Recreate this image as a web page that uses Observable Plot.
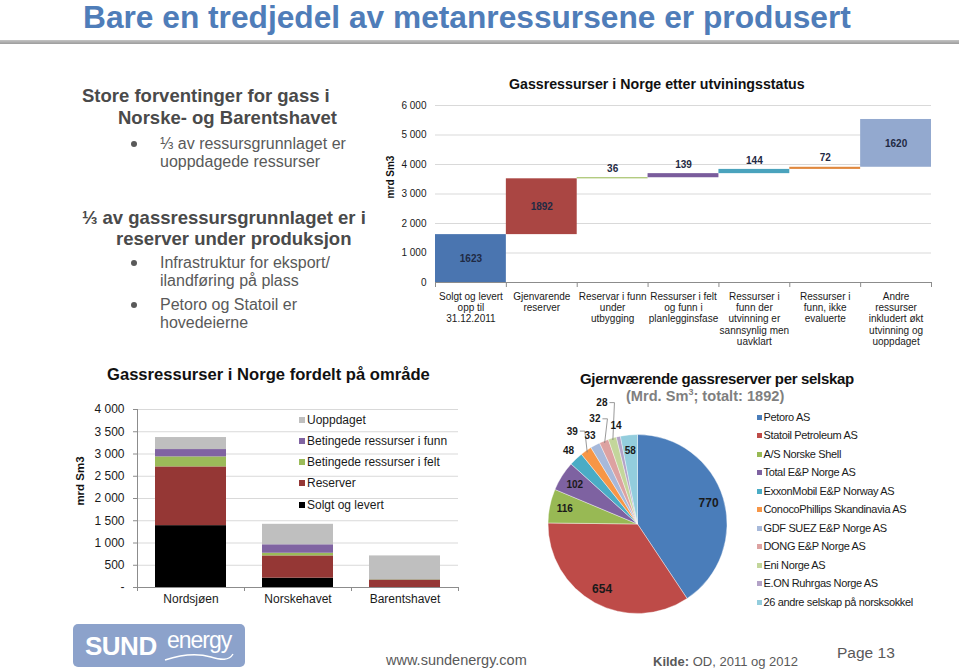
<!DOCTYPE html>
<html lang="no"><head><meta charset="utf-8"><title>Gassressurser</title>
<script src="https://cdn.jsdelivr.net/npm/d3@7"></script>
<script src="https://cdn.jsdelivr.net/npm/@observablehq/plot@0.6"></script>
<style>
html,body{margin:0;padding:0;background:#fff;}
#page{position:relative;width:959px;height:671px;overflow:hidden;font-family:"Liberation Sans",Arial,Helvetica,sans-serif;color:#595959;}
.t{position:absolute;white-space:nowrap;line-height:1;}
.chart{position:absolute;}
.chart svg{overflow:visible;max-width:none;}
.dot{position:absolute;width:6px;height:6px;border-radius:50%;background:#595959;}
.sw{position:absolute;}
</style></head><body><div id="page"></div><script>
// ---------- DATA ----------
// Waterfall: Gassressurser i Norge etter utviningsstatus (mrd Sm3)
const wfCategories = [
  "Solgt og levert\nopp til\n31.12.2011",
  "Gjenvarende\nreserver",
  "Reservar i funn\nunder\nutbygging",
  "Ressurser i felt\nog funn i\nplanlegginsfase",
  "Ressurser i\nfunn der\nutvinning er\nsannsynlig men\nuavklart",
  "Ressurser i\nfunn, ikke\nevaluerte",
  "Andre\nressurser\ninkludert økt\nutvinning og\nuoppdaget"
];
const wfValues = [1623, 1892, 36, 139, 144, 72, 1620];
const wfColors = ["#4a75b0", "#aa4643", "#9bbb59", "#7a5c9c", "#4aa3bd", "#e0883e", "#93a9cf"];
const wfTicks = [0, 1000, 2000, 3000, 4000, 5000, 6000];

// Stacked: Gassressurser i Norge fordelt på område (mrd Sm3)
const areas = ["Nordsjøen", "Norskehavet", "Barentshavet"];
const areaSeries = ["Solgt og levert", "Reserver", "Betingede ressurser i felt", "Betingede ressurser i funn", "Uoppdaget"];
const solgtOgLevert = [1390, 210, 0];
const reserver = [1320, 500, 165];
const betingedeFelt = [225, 60, 10];
const betingedeFunn = [165, 190, 5];
const uoppdaget = [270, 460, 530];
const areaColors = ["#000000", "#953735", "#9bbb59", "#8064a2", "#bfbfbf"];
const areaTicks = [0, 500, 1000, 1500, 2000, 2500, 3000, 3500, 4000];

// Pie: Gjernværende gassreserver per selskap (Mrd. Sm3; totalt 1892)
const companies = ["Petoro AS", "Statoil Petroleum AS", "A/S Norske Shell", "Total E&P Norge AS",
  "ExxonMobil E&P Norway AS", "ConocoPhillips Skandinavia AS", "GDF SUEZ E&P Norge AS",
  "DONG E&P Norge AS", "Eni Norge AS", "E.ON Ruhrgas Norge AS", "26 andre selskap på norsksokkel"];
const companyReserves = [770, 654, 116, 102, 48, 39, 33, 32, 28, 14, 58];
const companyColors = ["#4a7dba", "#be4b48", "#98b954", "#7e62a1", "#4aacc5", "#f79646",
  "#a7b9da", "#dda2a1", "#c3d69b", "#b3a2c7", "#93cddd"];

// ---------- HELPERS ----------
const FONT = "Liberation Sans, Arial, Helvetica, sans-serif";
const page = document.getElementById("page");
function addText(html, x, top, css) {
  const d = document.createElement("div");
  d.className = "t";
  d.innerHTML = html;
  d.style.left = x + "px";
  d.style.top = top + "px";
  Object.assign(d.style, css || {});
  page.appendChild(d);
  return d;
}
function addChart(node, x, y) {
  const d = document.createElement("div");
  d.className = "chart";
  d.style.left = x + "px";
  d.style.top = y + "px";
  d.appendChild(node);
  page.appendChild(d);
}
const fmtK = v => d3.format(",")(v).replace(/,/g, "\u00a0");

// ---------- SLIDE HEADER ----------
addText("Bare en tredjedel av metanressursene er produsert", 83, 2,
  {fontSize: "31.7px", fontWeight: "bold", color: "#4f7db9"});
const rule = document.createElement("div");
Object.assign(rule.style, {position: "absolute", left: "0px", top: "40px", width: "959px", height: "4px",
  background: "linear-gradient(#c4c4c4,#9c9c9c)"});
page.appendChild(rule);

// ---------- LEFT TEXT ----------
const H = {fontSize: "18.5px", fontWeight: "bold", color: "#4a4a4a"};
const B = {fontSize: "16px", color: "#595959"};
addText("Store forventinger for gass i", 82, 103 - 15.7, H);
addText("Norske- og Barentshavet", 118, 125 - 15.7, H);
addText("⅓ av ressursgrunnlaget er", 160, 149 - 13.5, B);
addText("uoppdagede ressurser", 160, 167.5 - 13.5, B);
addText("⅓ av gassressursgrunnlaget er i", 82, 225 - 15.7, H);
addText("reserver under produksjon", 116, 246 - 15.7, H);
addText("Infrastruktur for eksport/", 160, 268 - 13.5, B);
addText("ilandføring på plass", 160, 286.5 - 13.5, B);
addText("Petoro og Statoil er", 160, 310 - 13.5, B);
addText("hovedeierne", 160, 328.5 - 13.5, B);
[149, 268, 310].forEach(b => {
  const d = document.createElement("div");
  d.className = "dot";
  d.style.left = "131px";
  d.style.top = (b - 8) + "px";
  page.appendChild(d);
});

// ---------- WATERFALL ----------
addText("Gassressurser i Norge etter utviningsstatus", 509, 77,
  {fontSize: "14.2px", fontWeight: "bold", color: "#111"});
addText("mrd Sm3", 391, 177, {fontSize: "10px", fontWeight: "bold", color: "#111",
  transform: "translate(-50%,-50%) rotate(-90deg)"});

let run = 0;
const wfRows = wfValues.map((v, i) => {
  const r = {i, cat: wfCategories[i], v, y1: run, y2: run + v};
  run += v;
  return r;
});
const wf = Plot.plot({
  width: 579, height: 262, marginLeft: 55, marginRight: 28, marginTop: 10, marginBottom: 75,
  style: {fontFamily: FONT, fontSize: "10px", color: "#1a1a1a", background: "transparent"},
  x: {type: "linear", domain: [0, wfCategories.length]},
  y: {domain: [0, 6000]},
  color: {type: "ordinal", domain: wfCategories, range: wfColors},
  marks: [
    Plot.ruleY(wfTicks.filter(t => t > 0), {stroke: "#d9d9d9", strokeWidth: 1}),
    Plot.axisY({ticks: wfTicks, tickSize: 0, tickPadding: 9, tickFormat: fmtK, label: null}),
    Plot.rect(wfRows, {x1: "i", x2: d => d.i + 1, y1: "y1", y2: "y2", fill: "cat"}),
    Plot.ruleY([0], {stroke: "#8c8c8c"}),
    Plot.axisX({ticks: d3.range(0, wfCategories.length + 1), tickSize: 5, stroke: "#8c8c8c",
      tickFormat: () => "", label: null}),
    Plot.axisX({ticks: d3.range(wfCategories.length).map(i => i + 0.5), tickSize: 0, tickPadding: 9,
      tickFormat: t => wfCategories[Math.floor(t)], lineHeight: 1.14, label: null, fill: "#1a1a1a"}),
    Plot.text(wfRows.filter(d => d.v >= 1000), {x: d => d.i + 0.5, y: d => (d.y1 + d.y2) / 2,
      text: d => String(d.v), fontWeight: "bold", fill: "#1f2a44"}),
    Plot.text(wfRows.filter(d => d.v < 1000), {x: d => d.i + 0.5, y: "y2", dy: -9,
      text: d => String(d.v), fontWeight: "bold", fill: "#1f2a44"})
  ]
});
addChart(wf, 380, 95);

// ---------- STACKED BARS ----------
addText("Gassressurser i Norge fordelt på område", 107, 367,
  {fontSize: "16.6px", fontWeight: "bold", color: "#111"});
addText("mrd Sm3", 81, 481, {fontSize: "11.5px", fontWeight: "bold", color: "#111",
  transform: "translate(-50%,-50%) rotate(-90deg)"});

const areaValues = [solgtOgLevert, reserver, betingedeFelt, betingedeFunn, uoppdaget];
const stackRows = areas.flatMap((a, i) => {
  let c = 0;
  return areaSeries.map((s, k) => {
    const v = areaValues[k][i];
    const r = {i, area: a, series: s, v, y1: c, y2: c + v};
    c += v;
    return r;
  });
});
const sb = Plot.plot({
  width: 402, height: 220, marginLeft: 77, marginRight: 4, marginTop: 14, marginBottom: 28,
  style: {fontFamily: FONT, fontSize: "12px", color: "#1a1a1a", background: "transparent"},
  x: {type: "linear", domain: [0, areas.length]},
  y: {domain: [0, 4000]},
  color: {type: "ordinal", domain: areaSeries, range: areaColors},
  marks: [
    Plot.ruleY(areaTicks.filter(t => t > 0), {stroke: "#d9d9d9"}),
    Plot.axisY({ticks: areaTicks, tickSize: 4, tickPadding: 9, stroke: "#8c8c8c",
      tickFormat: v => v === 0 ? "-" : fmtK(v), label: null, fill: "#1a1a1a"}),
    Plot.rect(stackRows.filter(d => d.v > 0), {x1: "i", x2: d => d.i + 1, y1: "y1", y2: "y2",
      fill: "series", insetLeft: 18, insetRight: 18}),
    Plot.ruleX([0], {stroke: "#8c8c8c"}),
    Plot.ruleY([0], {stroke: "#8c8c8c"}),
    Plot.axisX({ticks: d3.range(0, areas.length + 1), tickSize: 4, stroke: "#8c8c8c",
      tickFormat: () => "", label: null}),
    Plot.axisX({ticks: areas.map((_, i) => i + 0.5), tickSize: 0, tickPadding: 7,
      tickFormat: t => areas[Math.floor(t)], label: null, fill: "#1a1a1a"})
  ]
});
addChart(sb, 60, 395);

// stacked legend (reverse order)
const sbLegendY = [420, 441, 462, 483.3, 505];
areaSeries.slice().reverse().forEach((s, k) => {
  const col = areaColors[areaSeries.indexOf(s)];
  const sw = document.createElement("div");
  sw.className = "sw";
  Object.assign(sw.style, {left: "299px", top: (sbLegendY[k] - 3) + "px", width: "6px", height: "6px", background: col});
  page.appendChild(sw);
  addText(s, 307, sbLegendY[k] - 6, {fontSize: "12px", color: "#1a1a1a"});
});

// ---------- PIE ----------
addText("Gjernværende gassreserver per selskap", 580, 370.6,
  {fontSize: "15px", fontWeight: "bold", color: "#111", letterSpacing: "-0.33px"});
addText("(Mrd. Sm<sup style='font-size:9px;vertical-align:6px;line-height:0'>3</sup>; totalt: 1892)", 626, 389,
  {fontSize: "14.6px", fontWeight: "bold", color: "#7f7f7f"});

const pieColor = Plot.scale({color: {type: "ordinal", domain: companies, range: companyColors}});
const pieRows = companies.map((c, i) => ({company: c, value: companyReserves[i]}));
const PCX = 117.5, PCY = 144, PR = 89.5;
function pieMark() {
  const g = d3.create("svg:g").attr("transform", `translate(${PCX},${PCY})`);
  const arcs = d3.pie().sort(null).value(d => d.value)(pieRows);
  const arc = d3.arc().innerRadius(0).outerRadius(PR);
  g.selectAll("path.slice").data(arcs).join("path")
    .attr("d", arc)
    .attr("fill", d => pieColor.apply(d.data.company))
    .attr("stroke", "#ffffff").attr("stroke-width", 0.4);
  const placed = [];
  arcs.forEach(a => {
    const mid = (a.startAngle + a.endAngle) / 2;
    const v = a.data.value;
    const big = v > 500;
    const fs = big ? 12 : 10;
    let rr, leader = false;
    if (v >= 58) {
      rr = PR * 0.83;
    } else {
      rr = PR + 11;
      const at = r => [Math.sin(mid) * r, -Math.cos(mid) * r];
      let p = at(rr);
      while (placed.some(q => Math.abs(q[0] - p[0]) < 16 && Math.abs(q[1] - p[1]) < 12)) {
        rr += 13;
        p = at(rr);
        leader = true;
      }
      placed.push(p);
    }
    const lx = Math.sin(mid) * rr, ly = -Math.cos(mid) * rr;
    if (leader) {
      const tw = String(v).length * fs * 0.556;
      const side = lx < 0 ? 1 : -1;
      const sx = lx + side * (tw / 2 + 2), ex = Math.sin(mid) * (PR - 2), ey = -Math.cos(mid) * (PR - 2);
      g.append("path")
        .attr("d", `M${sx},${ly}L${sx + side * 5},${ly}L${ex},${ey}`)
        .attr("fill", "none").attr("stroke", "#7f7f7f").attr("stroke-width", 0.8);
    }
    g.append("text")
      .attr("x", lx).attr("y", ly).attr("dy", "0.35em")
      .attr("text-anchor", "middle")
      .attr("font-size", fs).attr("font-weight", "bold")
      .attr("fill", "#1a1a1a")
      .text(String(v));
  });
  return g.node();
}
const pie = Plot.plot({
  width: 240, height: 240, margin: 0,
  style: {fontFamily: FONT, background: "transparent"},
  marks: [pieMark]
});
addChart(pie, 520, 380);

// pie legend
companies.forEach((c, k) => {
  const cy = 417.3 + k * 18.5;
  const sw = document.createElement("div");
  sw.className = "sw";
  Object.assign(sw.style, {left: "757px", top: (cy - 2.5) + "px", width: "5px", height: "5px", background: companyColors[k]});
  page.appendChild(sw);
  addText(c.replace(/&/g, "&amp;"), 763.5, cy - 5.6, {fontSize: "11px", color: "#1a1a1a", letterSpacing: "-0.35px"});
});

// ---------- FOOTER ----------
const logo = document.createElement("div");
Object.assign(logo.style, {position: "absolute", left: "73px", top: "624px", width: "172px", height: "43px",
  background: "#8ca2cb", borderRadius: "5px", overflow: "hidden"});
logo.innerHTML =
  "<div style='position:absolute;left:12px;top:9px;font:bold 26px " + FONT + ";color:#fff;line-height:1;letter-spacing:-0.5px'>SUND</div>" +
  "<div style='position:absolute;left:94px;top:5px;font:23px " + FONT + ";color:#fff;line-height:1;letter-spacing:-1px'>energy</div>" +
  "<svg width='172' height='43' style='position:absolute;left:0;top:0'><path d='M92,36 C110,30 124,29 138,33 C148,36 156,37 160,30' fill='none' stroke='#fff' stroke-width='1.4'/></svg>";
page.appendChild(logo);
addText("www.sundenergy.com", 386, 653, {fontSize: "14.5px", color: "#595959"});
addText("<b>Kilde:</b> OD, 2011 og 2012", 653, 654.6, {fontSize: "13px", color: "#595959"});
addText("Page 13", 837, 645.4, {fontSize: "15.5px", color: "#595959"});
</script></body></html>
